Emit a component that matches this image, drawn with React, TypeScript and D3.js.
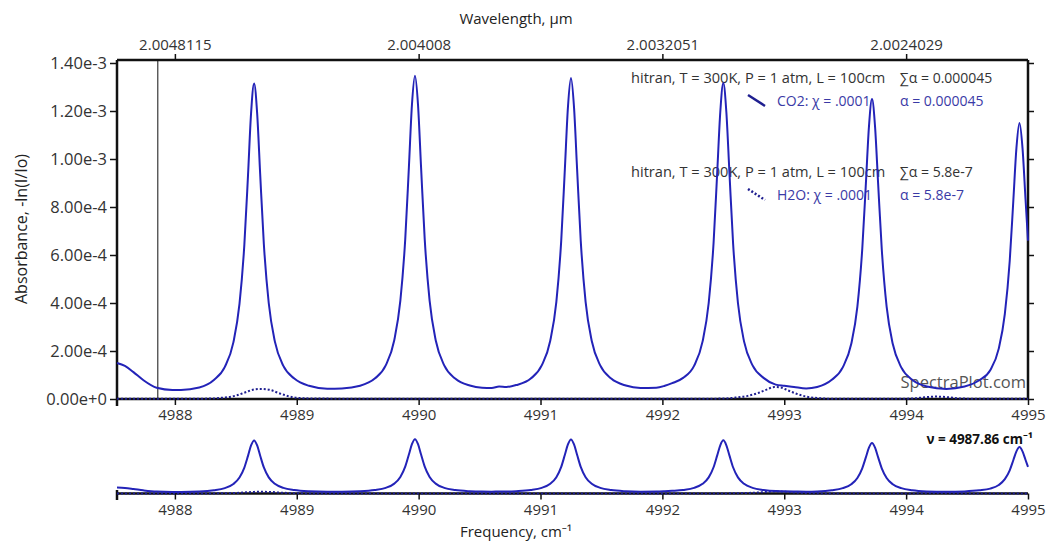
import React, { useEffect, useRef } from "react";
import * as d3 from "d3";

// CO2 spectrum: [frequency cm-1, absorbance]
const co2Spectrum: [number, number][] = [
  [4987.525, 1.5e-4], [4987.59, 1.38e-4], [4987.66, 1.12e-4], [4987.74, 0.79e-4],
  [4987.85, 0.47e-4], [4987.98, 0.38e-4], [4988.05, 0.38e-4], [4988.2, 0.48e-4],
  [4988.32, 0.79e-4], [4988.41, 1.34e-4], [4988.48, 2.36e-4], [4988.53, 3.96e-4],
  [4988.57, 6.43e-4], [4988.6, 9.32e-4], [4988.625, 1.19e-3], [4988.65, 1.315e-3],
  [4988.675, 1.19e-3], [4988.7, 9.35e-4], [4988.73, 6.45e-4], [4988.77, 4.0e-4],
  [4988.82, 2.4e-4], [4988.89, 1.38e-4], [4988.98, 0.85e-4], [4989.1, 0.55e-4],
  [4989.25, 0.43e-4], [4989.37, 0.44e-4], [4989.52, 0.55e-4], [4989.64, 0.85e-4],
  [4989.73, 1.4e-4], [4989.8, 2.45e-4], [4989.85, 4.1e-4], [4989.89, 6.65e-4],
  [4989.92, 9.65e-4], [4989.945, 1.225e-3], [4989.97, 1.347e-3], [4989.995, 1.225e-3],
  [4990.02, 9.65e-4], [4990.05, 6.65e-4], [4990.09, 4.1e-4], [4990.14, 2.45e-4],
  [4990.21, 1.4e-4], [4990.3, 0.85e-4], [4990.42, 0.56e-4], [4990.52, 0.47e-4],
  [4990.6, 0.46e-4], [4990.66, 0.52e-4], [4990.72, 0.5e-4], [4990.8, 0.58e-4],
  [4990.92, 0.85e-4], [4991.01, 1.4e-4], [4991.08, 2.43e-4], [4991.13, 4.05e-4],
  [4991.17, 6.6e-4], [4991.2, 9.6e-4], [4991.225, 1.215e-3], [4991.25, 1.3375e-3],
  [4991.275, 1.215e-3], [4991.3, 9.6e-4], [4991.33, 6.6e-4], [4991.37, 4.05e-4],
  [4991.42, 2.43e-4], [4991.49, 1.4e-4], [4991.58, 0.85e-4], [4991.7, 0.56e-4],
  [4991.82, 0.46e-4], [4991.95, 0.47e-4], [4992.02, 0.55e-4], [4992.08, 0.66e-4],
  [4992.17, 0.88e-4], [4992.26, 1.38e-4], [4992.33, 2.4e-4], [4992.38, 4.0e-4],
  [4992.42, 6.5e-4], [4992.45, 9.45e-4], [4992.475, 1.195e-3], [4992.5, 1.317e-3],
  [4992.525, 1.195e-3], [4992.55, 9.45e-4], [4992.58, 6.5e-4], [4992.62, 4.0e-4],
  [4992.67, 2.4e-4], [4992.74, 1.4e-4], [4992.83, 0.88e-4], [4992.93, 0.6e-4],
  [4993.0, 0.55e-4], [4993.08, 0.5e-4], [4993.18, 0.44e-4], [4993.27, 0.5e-4],
  [4993.39, 0.8e-4], [4993.48, 1.32e-4], [4993.55, 2.3e-4], [4993.6, 3.85e-4],
  [4993.64, 6.25e-4], [4993.67, 9.0e-4], [4993.695, 1.135e-3], [4993.72, 1.25e-3],
  [4993.745, 1.135e-3], [4993.77, 9.0e-4], [4993.8, 6.25e-4], [4993.84, 3.85e-4],
  [4993.89, 2.3e-4], [4993.96, 1.32e-4], [4994.05, 0.8e-4], [4994.17, 0.52e-4],
  [4994.33, 0.42e-4], [4994.48, 0.52e-4], [4994.6, 0.78e-4], [4994.69, 1.2e-4],
  [4994.76, 2.1e-4], [4994.81, 3.55e-4], [4994.85, 5.75e-4], [4994.88, 8.3e-4],
  [4994.905, 1.045e-3], [4994.93, 1.15e-3], [4994.955, 1.045e-3], [4994.98, 8.3e-4],
  [4995.0, 6.6e-4],
];

// H2O spectrum (dotted)
const h2oSpectrum: [number, number][] = [
  [4987.525, 0.01e-4], [4988.1, 0.01e-4], [4988.3, 0.02e-4], [4988.4, 0.06e-4],
  [4988.5, 0.14e-4], [4988.58, 0.28e-4], [4988.65, 0.4e-4], [4988.7, 0.42e-4],
  [4988.78, 0.38e-4], [4988.85, 0.25e-4], [4988.93, 0.12e-4], [4989.0, 0.05e-4],
  [4989.15, 0.02e-4], [4989.6, 0.01e-4], [4990.5, 0.01e-4], [4991.5, 0.01e-4],
  [4992.3, 0.01e-4], [4992.5, 0.02e-4], [4992.6, 0.06e-4], [4992.7, 0.13e-4],
  [4992.78, 0.24e-4], [4992.85, 0.38e-4], [4992.92, 0.5e-4], [4992.97, 0.48e-4],
  [4993.03, 0.36e-4], [4993.1, 0.22e-4], [4993.18, 0.1e-4], [4993.27, 0.04e-4],
  [4993.4, 0.01e-4], [4993.9, 0.01e-4], [4994.05, 0.02e-4], [4994.15, 0.07e-4],
  [4994.25, 0.1e-4], [4994.35, 0.07e-4], [4994.45, 0.02e-4], [4994.6, 0.01e-4],
  [4995.0, 0.01e-4],
];

const freqTicks = [4988, 4989, 4990, 4991, 4992, 4993, 4994, 4995];
const absTicks = [0, 2e-4, 4e-4, 6e-4, 8e-4, 1.0e-3, 1.2e-3, 1.4e-3];
const wavelengthTickFreqs = [4988, 4990, 4992, 4994];
const wavelengthTickLabels = ["2.0048115", "2.004008", "2.0032051", "2.0024029"];
const cursorFreq = 4987.86;

const legendRows = [
  { header: "hitran, T = 300K, P = 1 atm, L = 100cm", sum: "∑α = 0.000045", name: "CO2: χ = .0001", alpha: "α = 0.000045", dash: null },
  { header: "hitran, T = 300K, P = 1 atm, L = 100cm", sum: "∑α = 5.8e-7", name: "H2O: χ = .0001", alpha: "α = 5.8e-7", dash: "2,2" },
];

const FONT = "'Open Sans', 'Noto Sans', sans-serif";
const LINE = "#2323b8";

export default function App() {
  const ref = useRef<SVGSVGElement>(null);

  useEffect(() => {
    const svg = d3.select(ref.current);
    svg.selectAll("*").remove();

    const left = 117, right = 1028, top = 60, bottom = 399;
    const x = d3.scaleLinear().domain([4987.525, 4995]).range([left, right]);
    const y = d3.scaleLinear().domain([0, 1.4e-3]).range([bottom, 63]);
    const yo = d3.scaleLinear().domain([0, 1.4e-3]).range([493.5, 437]);

    const styleAxis = (g, size = "15px") => {
      g.select(".domain").remove();
      g.selectAll("line").attr("stroke", "#111").attr("stroke-width", 1.5);
      g.selectAll("text").attr("fill", "#333").style("font-family", FONT).style("font-size", size);
    };

    // legend text (drawn under the curves)
    const lg = svg.append("g");
    legendRows.forEach((r, i) => {
      const y0 = 83 + i * 94;
      lg.append("text").attr("x", 631).attr("y", y0).text(r.header)
        .attr("fill", "#333").style("font-family", FONT).style("font-size", "14.6px");
      lg.append("text").attr("x", 900).attr("y", y0).text(r.sum)
        .attr("fill", "#333").style("font-family", FONT).style("font-size", "14px");
      lg.append("line").attr("x1", 748).attr("y1", y0 + 12).attr("x2", 765).attr("y2", y0 + 23)
        .attr("stroke", "#1f1f90").attr("stroke-width", 2.5)
        .attr("stroke-dasharray", r.dash);
      lg.append("text").attr("x", 777).attr("y", y0 + 23).text(r.name)
        .attr("fill", "#3a3aa6").style("font-family", FONT).style("font-size", "14px");
      lg.append("text").attr("x", 900).attr("y", y0 + 23).text(r.alpha)
        .attr("fill", "#3a3aa6").style("font-family", FONT).style("font-size", "14px");
    });

    svg.append("text").attr("x", 1026).attr("y", 388).attr("text-anchor", "end")
      .text("SpectraPlot.com").attr("fill", "#555")
      .style("font-family", FONT).style("font-size", "16.5px");

    // axes
    svg.append("g").attr("transform", `translate(${left},0)`)
      .call(d3.axisLeft(y).tickValues(absTicks).tickSize(7).tickPadding(3)
        .tickFormat((d) => (+d).toExponential(2)))
      .call((g) => styleAxis(g, "16.5px"));
    svg.append("g").attr("transform", `translate(${right},0)`)
      .call(d3.axisRight(y).tickValues(absTicks).tickSize(6).tickFormat(() => ""))
      .call((g) => styleAxis(g));
    svg.append("g").attr("transform", `translate(0,${bottom})`)
      .call(d3.axisBottom(x).tickValues(freqTicks).tickSize(6).tickPadding(4).tickFormat(d3.format("d")))
      .call((g) => styleAxis(g));
    svg.append("g").attr("transform", `translate(0,${top})`)
      .call(d3.axisTop(x).tickValues(wavelengthTickFreqs).tickSize(6).tickPadding(4)
        .tickFormat((d, i) => wavelengthTickLabels[i]))
      .call((g) => styleAxis(g));
    svg.append("g").attr("transform", `translate(0,493.5)`)
      .call(d3.axisBottom(x).tickValues(freqTicks).tickSize(6).tickPadding(5).tickFormat(d3.format("d")))
      .call((g) => styleAxis(g));

    // frame lines
    const frame = [
      [left, top, left, 406], [left, top, right, top], [right, top, right, bottom],
      [left, bottom, right, bottom], [left, 490, left, 500], [left, 493.5, right, 493.5],
    ];
    svg.append("g").selectAll("line").data(frame).enter().append("line")
      .attr("x1", (d) => d[0]).attr("y1", (d) => d[1]).attr("x2", (d) => d[2]).attr("y2", (d) => d[3])
      .attr("stroke", "#111").attr("stroke-width", 2.5);

    // cursor
    svg.append("line").attr("x1", x(cursorFreq)).attr("x2", x(cursorFreq))
      .attr("y1", top).attr("y2", bottom).attr("stroke", "#111").attr("stroke-width", 1);

    // curves
    const line = d3.line<[number, number]>().x((d) => x(d[0])).y((d) => y(d[1])).curve(d3.curveMonotoneX);
    const lineO = d3.line<[number, number]>().x((d) => x(d[0])).y((d) => yo(d[1])).curve(d3.curveMonotoneX);

    svg.append("path").attr("d", line(h2oSpectrum)).attr("fill", "none")
      .attr("stroke", "#1f1f90").attr("stroke-width", 2).attr("stroke-dasharray", "2,2");
    svg.append("path").attr("d", line(co2Spectrum)).attr("fill", "none")
      .attr("stroke", LINE).attr("stroke-width", 2);
    svg.append("path").attr("d", lineO(h2oSpectrum)).attr("fill", "none")
      .attr("stroke", "#1f1f90").attr("stroke-width", 2).attr("stroke-dasharray", "2,2");
    svg.append("path").attr("d", lineO(co2Spectrum)).attr("fill", "none")
      .attr("stroke", LINE).attr("stroke-width", 2);

    // titles
    svg.append("text").attr("x", 516).attr("y", 24).attr("text-anchor", "middle")
      .text("Wavelength, µm").attr("fill", "#222").style("font-family", FONT).style("font-size", "15px");
    svg.append("text").attr("x", 516).attr("y", 537).attr("text-anchor", "middle")
      .text("Frequency, cm⁻¹").attr("fill", "#222").style("font-family", FONT).style("font-size", "15px");
    svg.append("text").attr("transform", "translate(27,229) rotate(-90)").attr("text-anchor", "middle")
      .text("Absorbance, -ln(I/Io)").attr("fill", "#222").style("font-family", FONT).style("font-size", "16px");
    svg.append("text").attr("x", 1033).attr("y", 444).attr("text-anchor", "end")
      .text(`ν = ${cursorFreq} cm⁻¹`).attr("fill", "#111").attr("font-weight", "bold")
      .style("font-family", FONT).style("font-size", "13.5px");
  }, []);

  return (
    <svg ref={ref} width={1047} height={544}
      style={{ position: "absolute", left: 0, top: 0, background: "#fff" }} />
  );
}
